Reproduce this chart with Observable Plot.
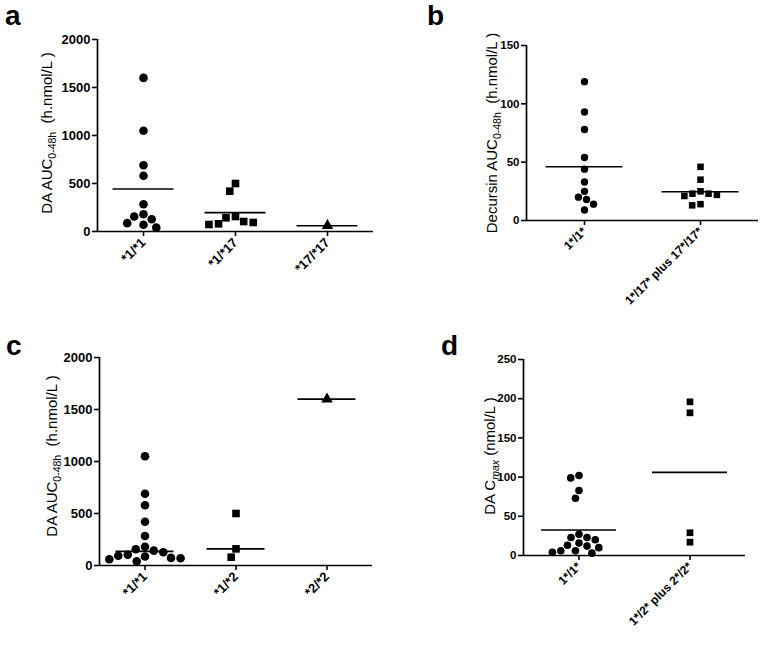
<!DOCTYPE html>
<html><head><meta charset="utf-8">
<script src="https://cdn.jsdelivr.net/npm/d3@7"></script>
<script src="https://cdn.jsdelivr.net/npm/@observablehq/plot@0.6"></script>
<style>
body{margin:0;background:#fff;}
#fig{position:relative;width:764px;height:645px;background:#fff;font-family:"Liberation Sans",Arial,sans-serif;overflow:hidden;}
.panel{position:absolute;}
.letter{position:absolute;font-weight:bold;font-size:28px;line-height:1;color:#000;}
</style></head><body><div id="fig"></div>
<script>
// Panel a
const aCats = ["*1/*1", "*1/*17", "*17/*17"];
const a11 = [1600, 1050, 690, 580, 284, 180, 156, 128, 87, 70, 40];
const a117 = [500, 420, 156, 143, 104, 94, 80, 73];
const a1717 = [60];
const aTicks = [0, 500, 1000, 1500, 2000];
// Panel b
const bCats = ["1*/1*", "1*/17* plus 17*/17*"];
const b11 = [119, 93, 78, 54, 44, 33, 25, 20, 18, 14, 9];
const b17 = [46, 35, 25, 23, 23, 22, 21, 14, 13];
const bTicks = [0, 50, 100, 150];
// Panel c
const cCats = ["*1/*1", "*1/*2", "*2/*2"];
const c11 = [1050, 690, 580, 420, 284, 180, 156, 143, 128, 104, 94, 87, 73, 70, 60, 40];
const c12 = [500, 160, 80];
const c22 = [1600];
const cTicks = [0, 500, 1000, 1500, 2000];
// Panel d
const dCats = ["1*/1*", "1*/2* plus 2*/2*"];
const d11 = [102, 99, 83, 73, 27, 23, 23, 20, 16, 13, 12, 10, 6, 6, 4, 3];
const d2 = [196, 182, 29, 17];
const dTicks = [0, 50, 100, 150, 200, 250];

const fig = document.getElementById("fig");

function panel(o) {
  const rows = o.cats.flatMap((c, i) => o.groups[i].map(v => ({cat: c, v})));
  const chart = Plot.plot({
    width: o.width, height: o.height,
    marginLeft: o.ml, marginRight: o.mr, marginTop: o.mt, marginBottom: o.mb,
    style: {fontFamily: "Liberation Sans, Arial, sans-serif", fontSize: o.tickFont + "px", fontWeight: "bold", color: "black", background: "white", overflow: "visible"},
    fx: {domain: o.cats, padding: 0, label: null},
    x: {domain: [0, 1], axis: null},
    y: {domain: [0, o.ticks[o.ticks.length - 1]], axis: null},
    symbol: {domain: o.cats, range: ["circle", "square", "triangle"]},
    marks: [
      Plot.ruleY([0], {strokeWidth: 1.7}),
      Plot.ruleX([0], {fx: () => o.cats[0], strokeWidth: 1.7}),
      Plot.axisY({ticks: o.ticks, tickFormat: d3.format("d"), tickSize: 5, strokeWidth: 1.6, tickPadding: 2, label: null}),
      Plot.axisFx({anchor: "bottom", tickSize: 5, strokeWidth: 1.6, tickRotate: -45, textAnchor: "end", label: null, tickPadding: 4, fontSize: o.catFont}),
      Plot.tickY(rows, Plot.groupZ({y: o.reducer}, {fx: "cat", y: "v", strokeWidth: 1.6, insetLeft: o.inset, insetRight: o.inset})),
      Plot.dot(rows, Plot.dodgeX("middle", {fx: "cat", y: "v", r: o.r, padding: o.pad, symbol: "cat", fill: "black", stroke: null}))
    ]
  });
  const svg = d3.select(chart);
  const t = svg.append("text")
    .attr("transform", `translate(${o.lx},${o.ly}) rotate(-90)`)
    .attr("text-anchor", "middle")
    .attr("fill", "black")
    .style("font-weight", "normal")
    .style("font-size", "15px")
    .style("font-family", "Liberation Sans, Arial, sans-serif")
    .style("white-space", "pre");
  o.label.forEach(p => {
    const s = t.append("tspan").text(p.t);
    if (p.sub) s.attr("dy", 4).style("font-size", "10.5px");
    if (p.after) s.attr("dy", -4);
    if (p.italic) s.style("font-style", "italic");
  });
  const wrap = document.createElement("div");
  wrap.className = "panel";
  wrap.style.left = o.left + "px";
  wrap.style.top = o.top + "px";
  wrap.appendChild(chart);
  fig.appendChild(wrap);
  const L = document.createElement("div");
  L.className = "letter";
  L.textContent = o.letter;
  L.style.left = o.letterX + "px";
  L.style.top = o.letterY + "px";
  fig.appendChild(L);
}

panel({cats: aCats, groups: [a11, a117, a1717], ticks: aTicks, reducer: "mean",
  left: 0, top: 0, width: 400, height: 330, ml: 97, mr: 27, mt: 39, mb: 99,
  tickFont: 13, catFont: 13, inset: 15.5, r: 4.3, pad: 1.2,
  lx: 52, ly: 133, letter: "a", letterX: 5, letterY: 2,
  label: [{t: "DA AUC"}, {t: "0-48h", sub: true}, {t: "  (h.nmol/L )", after: true}]});

panel({cats: bCats, groups: [b11, b17], ticks: bTicks, reducer: "mean",
  left: 400, top: 0, width: 364, height: 330, ml: 126, mr: 6, mt: 45, mb: 110,
  tickFont: 11.5, catFont: 12, inset: 19.5, r: 3.7, pad: 1.5,
  lx: 97, ly: 133, letter: "b", letterX: 427, letterY: 2,
  label: [{t: "Decursin AUC"}, {t: "0-48h", sub: true}, {t: "  (h.nmol/L )", after: true}]});

panel({cats: cCats, groups: [c11, c12, c22], ticks: cTicks, reducer: "median",
  left: 0, top: 330, width: 400, height: 315, ml: 99, mr: 28, mt: 27, mb: 80,
  tickFont: 13, catFont: 13, inset: 16.5, r: 4.3, pad: 1.2,
  lx: 57, ly: 126, letter: "c", letterX: 6, letterY: 332,
  label: [{t: "DA AUC"}, {t: "0-48h", sub: true}, {t: "  (h.nmol/L )", after: true}]});

panel({cats: dCats, groups: [d11, d2], ticks: dTicks, reducer: "mean",
  left: 400, top: 330, width: 364, height: 315, ml: 123, mr: 19, mt: 29, mb: 90,
  tickFont: 11.5, catFont: 12, inset: 18, r: 3.8, pad: 1.6,
  lx: 95, ly: 126, letter: "d", letterX: 441, letterY: 332,
  label: [{t: "DA C"}, {t: "max", sub: true, italic: true}, {t: " (nmol/L )", after: true}]});
</script>
</body></html>
